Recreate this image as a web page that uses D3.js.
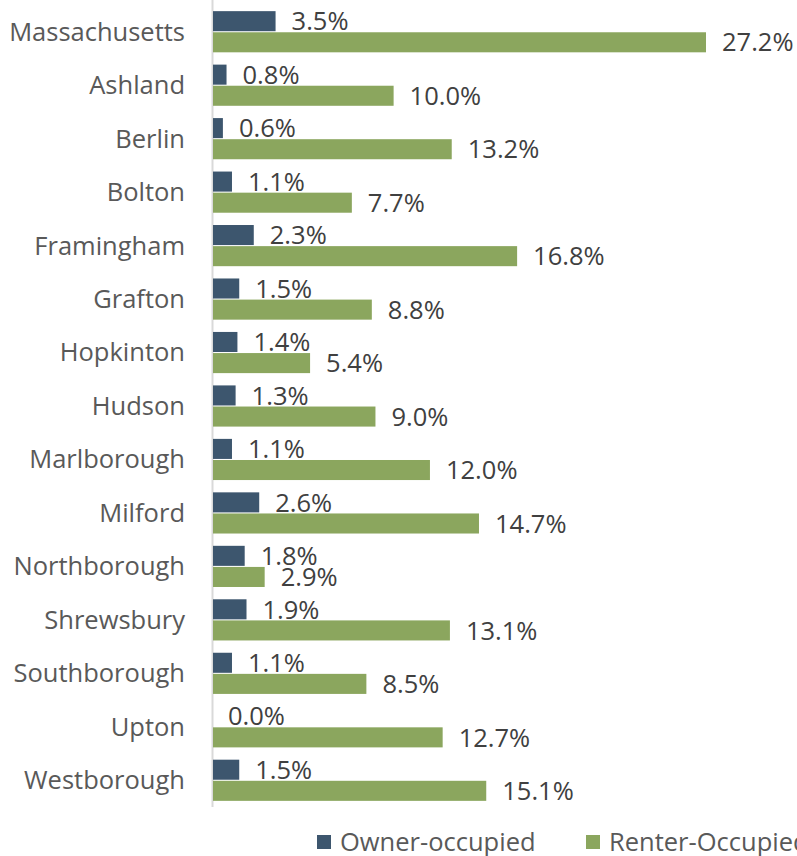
<!DOCTYPE html>
<html>
<head>
<meta charset="utf-8">
<script src="https://d3js.org/d3.v7.min.js"></script>
<style>
  body { margin: 0; background: #fff; overflow: hidden; }
  text { font-family: "Open Sans", "Noto Sans", sans-serif; }
</style>
</head>
<body>
<div id="chart"></div>
<script>
// categories and two series
const towns = ["Massachusetts", "Ashland", "Berlin", "Bolton", "Framingham", "Grafton", "Hopkinton",
  "Hudson", "Marlborough", "Milford", "Northborough", "Shrewsbury", "Southborough", "Upton", "Westborough"];
const ownerVals = [3.5, 0.8, 0.6, 1.1, 2.3, 1.5, 1.4, 1.3, 1.1, 2.6, 1.8, 1.9, 1.1, 0.0, 1.5];
const renterVals = [27.2, 10.0, 13.2, 7.7, 16.8, 8.8, 5.4, 9.0, 12.0, 14.7, 2.9, 13.1, 8.5, 12.7, 15.1];
const seriesNames = ["Owner-occupied", "Renter-Occupied"];
const colors = ["#3d566e", "#8ba65e"];

const width = 797, height = 856;
const svg = d3.select("#chart").append("svg")
    .attr("width", width)
    .attr("height", height);

const x = d3.scaleLinear().domain([0, 27.2]).range([212, 706]);
const y = d3.scaleBand().domain(towns).range([5, 807]).paddingInner(0.23).paddingOuter(0.115);
const sub = d3.scaleBand().domain([0, 1]).range([0, y.bandwidth()]).paddingInner(0.05);

const rows = towns.map((t, i) => ({ town: t, vals: [ownerVals[i], renterVals[i]] }));

// axis line
svg.append("line")
    .attr("x1", x(0) + 0.5).attr("x2", x(0) + 0.5)
    .attr("y1", 0).attr("y2", 807)
    .attr("stroke", "#d9d9d9")
    .attr("stroke-width", 2);

const g = svg.selectAll(".row")
    .data(rows)
    .enter().append("g")
    .attr("class", "row")
    .attr("transform", d => `translate(0,${y(d.town)})`);

g.append("text")
    .attr("x", 185)
    .attr("y", y.bandwidth() / 2)
    .attr("dy", "0.35em")
    .attr("text-anchor", "end")
    .attr("font-size", "25.5px")
    .attr("fill", "#595959")
    .text(d => d.town);

g.selectAll("rect")
    .data(d => d.vals)
    .enter().append("rect")
    .attr("x", x(0) + 1)
    .attr("y", (v, j) => sub(j))
    .attr("width", v => Math.max(0, x(v) - x(0) - 1))
    .attr("height", sub.bandwidth())
    .attr("fill", (v, j) => colors[j]);

g.selectAll(".val")
    .data(d => d.vals)
    .enter().append("text")
    .attr("class", "val")
    .attr("x", v => x(v) + 16)
    .attr("y", (v, j) => sub(j) + sub.bandwidth() / 2)
    .attr("dy", "0.36em")
    .attr("font-size", "25.5px")
    .attr("fill", "#404040")
    .text(v => v.toFixed(1) + "%");

// legend
const legendX = [317, 586];
const leg = svg.selectAll(".legend")
    .data(seriesNames)
    .enter().append("g")
    .attr("class", "legend")
    .attr("transform", (d, i) => `translate(${legendX[i]},835)`);

leg.append("rect")
    .attr("width", 14).attr("height", 14)
    .attr("fill", (d, i) => colors[i]);

leg.append("text")
    .attr("x", 23)
    .attr("y", 7)
    .attr("dy", "0.36em")
    .attr("font-size", "25.5px")
    .attr("fill", "#595959")
    .text(d => d);
</script>
</body>
</html>
